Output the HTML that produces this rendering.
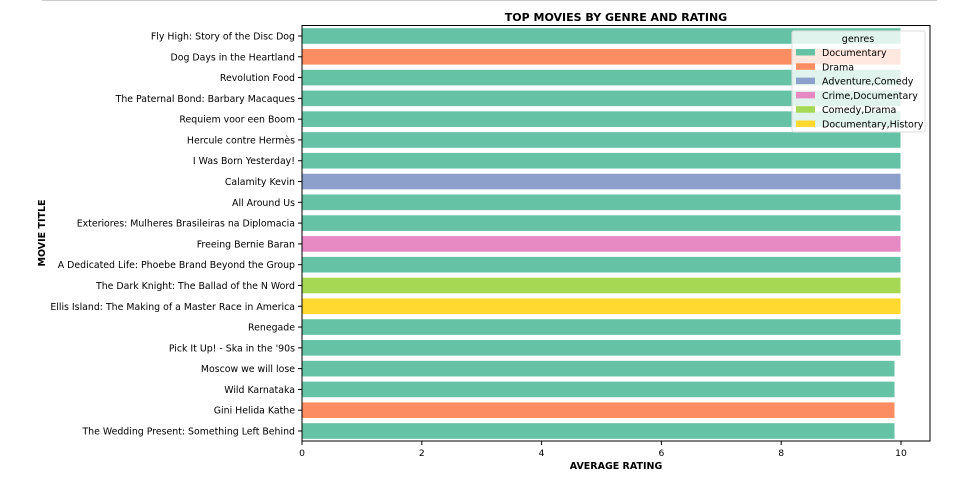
<!DOCTYPE html>
<html><head><meta charset="utf-8"><style>
body{margin:0;background:#fff;font-family:"DejaVu Sans","Liberation Sans",sans-serif}
svg text{font-family:"DejaVu Sans","Liberation Sans",sans-serif}
</style></head><body>
<svg id="chart" width="972" height="487" xmlns="http://www.w3.org/2000/svg">
<line x1="42" y1="0.5" x2="937" y2="0.5" stroke="#ccc"/>
<text x="616" y="21" text-anchor="middle" font-size="11" font-weight="bold">TOP MOVIES BY GENRE AND RATING</text>
<g id="bars"></g>
<rect x="302" y="25.5" width="628" height="415.5" fill="none" stroke="#000" stroke-width="1"/>
<g id="xticks"></g>
<text x="616" y="469" text-anchor="middle" font-size="9.5" font-weight="bold">AVERAGE RATING</text>
<text x="45" y="233" text-anchor="middle" font-size="9.5" font-weight="bold" transform="rotate(-90 45 233)">MOVIE TITLE</text>
<g id="legend"></g>
</svg>
<script>
const titles=["Fly High: Story of the Disc Dog","Dog Days in the Heartland","Revolution Food","The Paternal Bond: Barbary Macaques","Requiem voor een Boom","Hercule contre Hermès","I Was Born Yesterday!","Calamity Kevin","All Around Us","Exteriores: Mulheres Brasileiras na Diplomacia","Freeing Bernie Baran","A Dedicated Life: Phoebe Brand Beyond the Group","The Dark Knight: The Ballad of the N Word","Ellis Island: The Making of a Master Race in America","Renegade","Pick It Up! - Ska in the '90s","Moscow we will lose","Wild Karnataka","Gini Helida Kathe","The Wedding Present: Something Left Behind"];
const ratings=[10,10,10,10,10,10,10,10,10,10,10,10,10,10,10,10,9.9,9.9,9.9,9.9];
const genres=["Documentary","Drama","Documentary","Documentary","Documentary","Documentary","Documentary","Adventure,Comedy","Documentary","Documentary","Crime,Documentary","Documentary","Comedy,Drama","Documentary,History","Documentary","Documentary","Documentary","Documentary","Drama","Documentary"];
const genreNames=["Documentary","Drama","Adventure,Comedy","Crime,Documentary","Comedy,Drama","Documentary,History"];
const genreColors=["#66c2a5","#fc8d62","#8da0cb","#e78ac3","#a6d854","#ffd92f"];
const xTicks=[0,2,4,6,8,10];
const NS="http://www.w3.org/2000/svg";
const X0=302,PX=59.9,Y0=25.6,BAND=20.79;
const xs=v=>X0+v*PX, ys=i=>Y0+BAND*(i+0.5);
function mk(t,a,p){const e=document.createElementNS(NS,t);for(const k in a)e.setAttribute(k,a[k]);p.appendChild(e);return e;}
const bars=document.getElementById('bars');
titles.forEach((t,i)=>{
 const r=mk('rect',{x:xs(0),y:ys(i)-BAND*0.4,width:xs(ratings[i])-xs(0),height:BAND*0.8,fill:genreColors[genreNames.indexOf(genres[i])],stroke:'#fff','stroke-width':1},bars);
 
 
 const tk=mk('line',{x1:X0-4,x2:X0,y1:ys(i),y2:ys(i),stroke:'#000'},bars);
 
 
 const l=mk('text',{x:X0-7,y:ys(i)+3.5,'text-anchor':'end','font-size':'9.4'},bars);l.textContent=t;
 
 
});
const xt=document.getElementById('xticks');
xTicks.forEach(v=>{
 const tk=mk('line',{x1:xs(v),x2:xs(v),y1:441,y2:445,stroke:'#000'},xt);
 
 
 const l=mk('text',{x:xs(v),y:456,'text-anchor':'middle','font-size':'9.2'},xt);l.textContent=v;
 
 
});
const lg=document.getElementById('legend');
mk('rect',{x:792,y:31,width:133,height:101,rx:2,fill:'rgba(255,255,255,0.8)',stroke:'#ddd'},lg);
const lt=mk('text',{x:858,y:42,'text-anchor':'middle','font-size':'9.5'},lg);lt.textContent='genres';


genreNames.forEach((g,i)=>{
 const y=53+i*14.3;
 const s=mk('rect',{x:796,y:y-4,width:19,height:6.5,fill:genreColors[i]},lg);
 
 
 const t=mk('text',{x:822,y:y+3,'font-size':'9.5'},lg);t.textContent=g;
 
 
});
</script>
</body></html>
